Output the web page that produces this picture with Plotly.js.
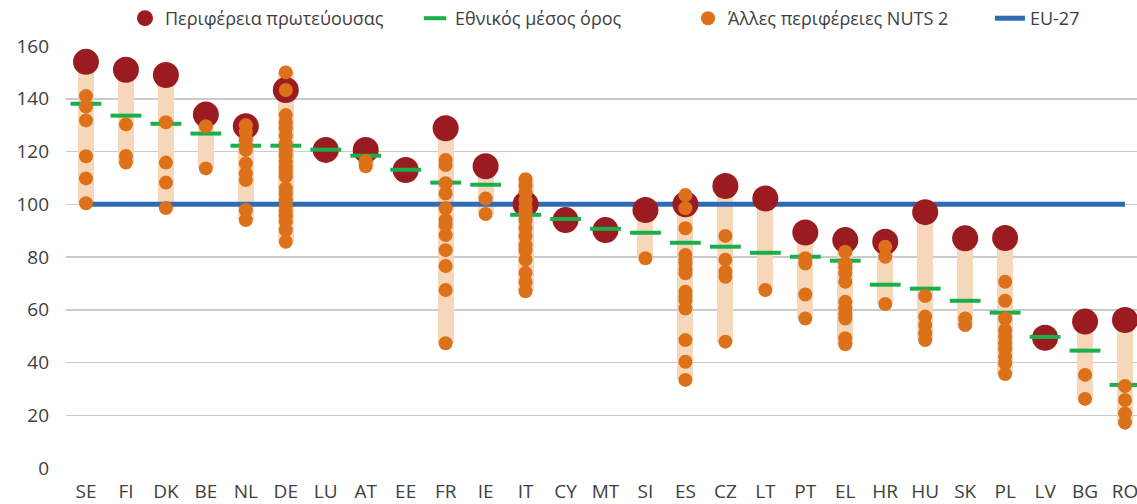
<!DOCTYPE html>
<html>
<head>
<meta charset="utf-8">
<script src="https://cdn.plot.ly/plotly-3.0.1.min.js"></script>
<style>
  html, body { margin: 0; padding: 0; background: #ffffff; }
  #chart { width: 1137px; height: 504px; }
</style>
</head>
<body>
<div id="chart"></div>
<script>
// Categories (member states)
const countries = ['SE','FI','DK','BE','NL','DE','LU','AT','EE','FR','IE','IT','CY','MT','SI','ES','CZ','LT','PT','EL','HR','HU','SK','PL','LV','BG','RO'];

// Capital region value
const capitalRegion = [154, 151, 149, 134, 129.6, 143.3, 120.6, 120.6, 113, 128.8, 114.4, 100, 94, 90.2, 97.8, 100, 106.9, 102.2, 89.3, 86.4, 85.8, 97, 87.1, 87.2, 49.4, 55.5, 56.1];

// National average
const nationalAverage = [138.1, 133.6, 130.5, 126.8, 122.2, 122.2, 120.7, 118.4, 113.1, 108.2, 107.4, 96, 94.4, 90.7, 89.2, 85.4, 83.9, 81.6, 80.1, 78.6, 69.5, 68, 63.4, 58.9, 49.7, 44.5, 31.5];

// Other NUTS 2 regions (one list per country, same order as countries)
const otherRegions = [
  [141, 137, 131.8, 118.2, 109.8, 100.4],                       // SE
  [130.3, 118.3, 115.8],                                        // FI
  [131.1, 115.8, 108.2, 98.6],                                  // DK
  [129.6, 113.6],                                               // BE
  [130, 127.3, 124.5, 122, 120.6, 115.5, 111.7, 109.2, 97.8, 94], // NL
  [150, 143.3, 133.8, 131, 128.8, 126, 123, 120.5, 118.5, 116.1, 114, 112.3, 110.5, 106, 104, 101.5, 99.7, 97.5, 95.5, 93.4, 90.2, 85.8], // DE
  [],                                                           // LU
  [116.3, 114.4],                                               // AT
  [],                                                           // EE
  [116.8, 114.9, 108, 104.1, 98.5, 94, 92.1, 88.3, 82.6, 76.6, 67.5, 47.3], // FR
  [102.2, 96.3],                                                // IE
  [109.5, 107, 104.5, 101.5, 99, 97, 94, 91, 88, 84.5, 82.5, 79, 74, 70.5, 67], // IT
  [],                                                           // CY
  [],                                                           // MT
  [79.5],                                                       // SI
  [103.5, 98.5, 90.9, 80.8, 79, 77.6, 75.5, 73.8, 66.8, 65, 63.7, 60.5, 48.5, 40.3, 33.4], // ES
  [88, 79, 74.4, 72.5, 47.9],                                   // CZ
  [67.5],                                                       // LT
  [79.5, 77.5, 65.8, 56.7],                                     // PT
  [82, 77.6, 76, 73.8, 70.6, 63, 60.5, 58.5, 56.7, 49.2, 46.9],  // EL
  [83.9, 80.1, 62.2],                                           // HR
  [65.2, 57.4, 54.2, 51.1, 48.5],                               // HU
  [56.7, 54.2],                                                 // SK
  [70.6, 63.4, 56.7, 52.3, 49.8, 47.3, 45, 42.2, 39.7, 35.6],   // PL
  [],                                                           // LV
  [35.3, 26.2],                                                 // BG
  [31.1, 25.8, 20.7, 17.2]                                      // RO
];

const euAverage = 100;

// Derived: range bar (min..max over all regions of a country)
const rangeMin = countries.map((c, i) => Math.min(capitalRegion[i], ...otherRegions[i]));
const rangeMax = countries.map((c, i) => Math.max(capitalRegion[i], ...otherRegions[i]));
const otherX = [], otherY = [];
otherRegions.forEach((vals, i) => vals.forEach(v => { otherX.push(countries[i]); otherY.push(v); }));

const traces = [
  {
    type: 'bar', x: countries, base: rangeMin,
    y: rangeMax.map((m, i) => m - rangeMin[i]),
    width: 0.4, marker: { color: '#F7D7BA' },
    showlegend: false, hoverinfo: 'skip'
  },
  {
    type: 'scatter', mode: 'lines', name: 'EU-27', legend: 'legend4',
    x: [countries[0], countries[countries.length - 1]], y: [euAverage, euAverage],
    line: { color: '#2F6BB5', width: 5 }
  },
  {
    type: 'scatter', mode: 'markers', name: 'Περιφέρεια πρωτεύουσας', legend: 'legend',
    x: countries, y: capitalRegion,
    marker: { color: '#9A1C20', size: 26 }, cliponaxis: false
  },
  {
    type: 'scatter', mode: 'markers', name: 'Εθνικός μέσος όρος', legend: 'legend2',
    x: countries, y: nationalAverage,
    marker: { symbol: 'line-ew', size: 22, line: { color: '#19B04B', width: 4 } }
  },
  {
    type: 'scatter', mode: 'markers', name: 'Άλλες περιφέρειες NUTS 2', legend: 'legend3',
    x: otherX, y: otherY,
    marker: { color: '#DC7119', size: 14 }
  }
];

function legendAt(x) {
  return {
    orientation: 'h', x: x, xanchor: 'left', y: 1.066, yanchor: 'middle',
    font: { size: 18, color: '#404040' }, bgcolor: 'rgba(0,0,0,0)'
  };
}

const layout = {
  width: 1137, height: 504,
  margin: { l: 66, r: 0, t: 46, b: 36 },
  paper_bgcolor: '#ffffff', plot_bgcolor: '#ffffff',
  font: { family: 'Open Sans, sans-serif', color: '#404040' },
  showlegend: true,
  legend: legendAt(0.0551),
  legend2: legendAt(0.3259),
  legend3: legendAt(0.5808),
  legend4: legendAt(0.8627),
  xaxis: {
    type: 'category', categoryorder: 'array', categoryarray: countries,
    range: [-0.5, 26.3], showgrid: false, zeroline: false, showline: false,
    ticks: '', tickfont: { size: 19, color: '#404040' }, ticklabelstandoff: 10, fixedrange: true
  },
  yaxis: {
    range: [0, 160], dtick: 20, showgrid: true, gridcolor: '#CACACA', gridwidth: 1.5,
    zeroline: false, showline: false, ticks: '',
    tickfont: { size: 19, color: '#404040' }, ticklabelstandoff: 16, fixedrange: true
  },
  bargap: 0
};

Plotly.newPlot('chart', traces, layout, { displayModeBar: false, staticPlot: true });
</script>
</body>
</html>
